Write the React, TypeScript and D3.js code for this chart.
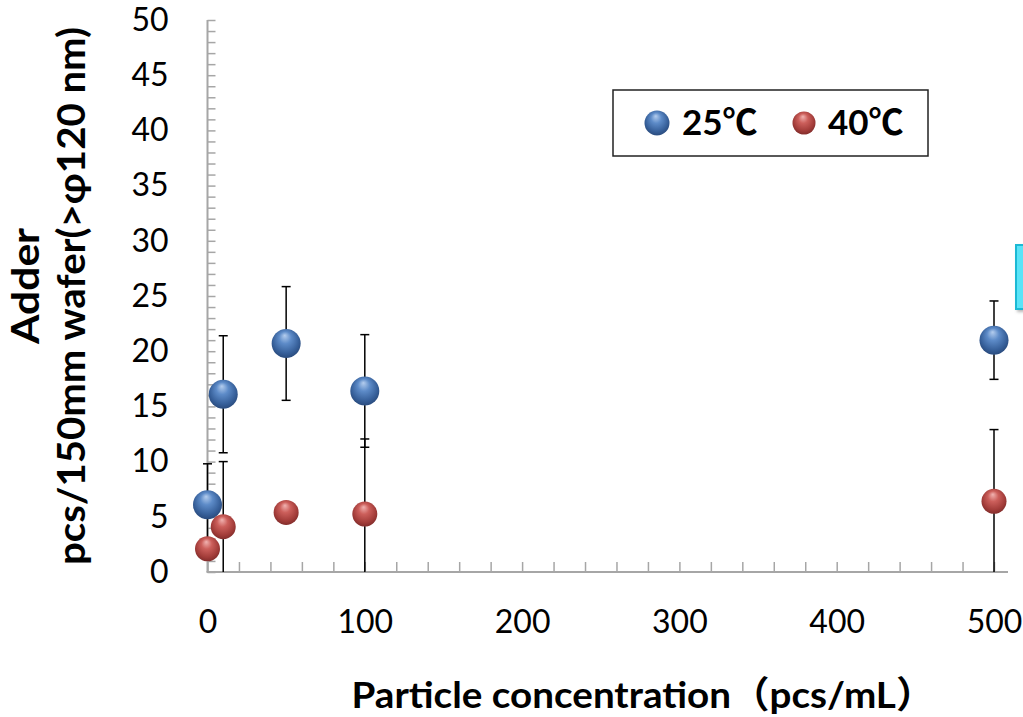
import React, { useEffect, useRef } from "react";
import * as d3 from "d3";

// particle concentration (pcs/mL)
const concentrations = [0, 10, 50, 100, 500];
// adder counts at 25°C and 40°C, with error half-widths
const adder25 = [6.1, 16.1, 20.7, 16.4, 21.0];
const err25 = [3.7, 5.3, 5.15, 5.1, 3.55];
const adder40 = [2.1, 4.1, 5.4, 5.25, 6.4];
const err40 = [0, 5.9, 0, 6.8, 6.5];

const xLabels = [0, 100, 200, 300, 400, 500];
const yLabels = [0, 5, 10, 15, 20, 25, 30, 35, 40, 45, 50];
const seriesNames = ["25℃", "40℃"];

const FONT = "Lato, 'Noto Sans CJK JP', sans-serif";

export default function App() {
  const svgRef = useRef<SVGSVGElement>(null);

  useEffect(() => {
    if (!svgRef.current) return;
    const svg = d3.select(svgRef.current);
    svg.selectAll("*").remove();

    const x = d3.scaleLinear().domain([0, 500]).range([207.5, 994]);
    const y = d3.scaleLinear().domain([0, 50]).range([572, 20]);

    // sphere gradients
    const defs = svg.append("defs");
    const sphere = (id: string, stops: [number, string][]) => {
      const g = defs.append("radialGradient")
        .attr("id", id)
        .attr("cx", "50%").attr("cy", "45%").attr("r", "60%")
        .attr("fx", "45%").attr("fy", "22%");
      stops.forEach(([o, c]) => g.append("stop").attr("offset", o).attr("stop-color", c));
    };
    sphere("blueBall", [[0, "#b4cdee"], [0.35, "#5d8bc8"], [0.75, "#365f99"], [0.92, "#2b4d80"], [1, "#6b8fbf"]]);
    sphere("redBall", [[0, "#f1b3b1"], [0.35, "#cc5f5b"], [0.75, "#a23c39"], [0.92, "#862f2d"], [1, "#c07a78"]]);

    const shadow = defs.append("filter").attr("id", "shadow").attr("x", "-20%").attr("y", "-20%").attr("width", "150%").attr("height", "150%");
    shadow.append("feDropShadow").attr("dx", 2).attr("dy", 2).attr("stdDeviation", 1.5).attr("flood-color", "#888").attr("flood-opacity", 0.6);

    const axisColor = "#a6a6a6";

    // X axis: minor ticks every 20, labels every 100
    const xAxis = d3.axisBottom(x)
      .tickValues(d3.range(0, 501, 20))
      .tickSize(-10)
      .tickSizeOuter(0)
      .tickPadding(38)
      .tickFormat((d: any) => (xLabels.includes(+d) ? String(d) : ""));
    const gx = svg.append("g").attr("transform", "translate(0,572)").call(xAxis);
    gx.select(".domain").remove();
    gx.selectAll(".tick line").attr("stroke", axisColor).attr("stroke-width", 1.5);
    gx.selectAll("text").attr("fill", "#000").attr("font-size", 32).attr("font-family", FONT);

    // Y axis: minor ticks every 1, labels every 5
    const yAxis = d3.axisLeft(y)
      .tickValues(d3.range(0, 51, 1))
      .tickSize(-8)
      .tickSizeOuter(0)
      .tickPadding(39)
      .tickFormat((d: any) => (yLabels.includes(+d) ? String(d) : ""));
    const gy = svg.append("g").attr("transform", "translate(207.5,0)").call(yAxis);
    gy.select(".domain").remove();
    gy.selectAll(".tick line").attr("stroke", axisColor).attr("stroke-width", 1.5);
    gy.selectAll("text").attr("fill", "#000").attr("font-size", 32).attr("font-family", FONT);

    svg.append("line").attr("x1", 207.5).attr("x2", 207.5).attr("y1", y(50)).attr("y2", y(0))
      .attr("stroke", axisColor).attr("stroke-width", 2);
    svg.append("line").attr("x1", 206.5).attr("x2", 1008).attr("y1", y(0)).attr("y2", y(0))
      .attr("stroke", axisColor).attr("stroke-width", 2);

    // error bars (clipped at zero, no cap when clipped)
    const bars: { c: number; v: number; e: number }[] = [];
    concentrations.forEach((c, i) => {
      bars.push({ c, v: adder25[i], e: err25[i] });
      bars.push({ c, v: adder40[i], e: err40[i] });
    });
    const eg = svg.append("g").attr("stroke", "#000").attr("stroke-width", 1.5);
    bars.filter(b => b.e > 0).forEach(b => {
      const hi = b.v + b.e;
      const lo = Math.max(0, b.v - b.e);
      const cx = x(b.c);
      eg.append("line").attr("x1", cx).attr("x2", cx).attr("y1", y(hi)).attr("y2", y(lo));
      eg.append("line").attr("x1", cx - 4.5).attr("x2", cx + 4.5).attr("y1", y(hi)).attr("y2", y(hi));
      if (b.v - b.e >= 0) {
        eg.append("line").attr("x1", cx - 4.5).attr("x2", cx + 4.5).attr("y1", y(lo)).attr("y2", y(lo));
      }
    });

    // markers
    svg.append("g").selectAll("circle")
      .data(concentrations.map((c, i) => ({ c, v: adder25[i] })))
      .enter().append("circle")
      .attr("cx", d => x(d.c)).attr("cy", d => y(d.v)).attr("r", 14.5)
      .attr("fill", "url(#blueBall)");
    svg.append("g").selectAll("circle")
      .data(concentrations.map((c, i) => ({ c, v: adder40[i] })))
      .enter().append("circle")
      .attr("cx", d => x(d.c)).attr("cy", d => y(d.v)).attr("r", 12.5)
      .attr("fill", "url(#redBall)");

    // legend
    const lg = svg.append("g");
    lg.append("rect").attr("x", 613).attr("y", 90).attr("width", 315).attr("height", 66)
      .attr("fill", "#fff").attr("stroke", "#222").attr("stroke-width", 1.5);
    const legendItems = [
      { name: seriesNames[0], fill: "url(#blueBall)", mx: 657, tx: 682, r: 12.5 },
      { name: seriesNames[1], fill: "url(#redBall)", mx: 804, tx: 828, r: 11.5 },
    ];
    legendItems.forEach(it => {
      lg.append("circle").attr("cx", it.mx).attr("cy", 123).attr("r", it.r).attr("fill", it.fill);
      lg.append("text").attr("x", it.tx).attr("y", 135).attr("font-size", 35).attr("font-weight", "bold")
        .attr("font-family", FONT).attr("fill", "#000").text(it.name);
    });

    // partial cyan box at right edge
    svg.append("rect").attr("x", 1016).attr("y", 245).attr("width", 30).attr("height", 64)
      .attr("fill", "#5ae4f8").attr("stroke", "#1cb9d4").attr("stroke-width", 2).attr("filter", "url(#shadow)");

    // axis titles
    svg.append("text").attr("x", 643).attr("y", 708).attr("text-anchor", "middle")
      .attr("font-size", 37).attr("font-weight", "bold").attr("font-family", FONT).attr("fill", "#000")
      .attr("textLength", 583).attr("lengthAdjust", "spacingAndGlyphs")
      .text("Particle concentration（pcs/mL）");
    svg.append("text").attr("transform", "translate(39,286) rotate(-90)").attr("text-anchor", "middle")
      .attr("font-size", 38).attr("font-weight", "bold").attr("font-family", FONT).attr("fill", "#000")
      .attr("textLength", 116).attr("lengthAdjust", "spacingAndGlyphs")
      .text("Adder");
    svg.append("text").attr("transform", "translate(85,296) rotate(-90)").attr("text-anchor", "middle")
      .attr("font-size", 38).attr("font-weight", "bold").attr("font-family", FONT).attr("fill", "#000")
      .attr("textLength", 538).attr("lengthAdjust", "spacingAndGlyphs")
      .text("pcs/150mm wafer(>φ120 nm)");
  }, []);

  return (
    <svg
      ref={svgRef}
      width={1023}
      height={717}
      style={{ position: "absolute", left: 0, top: 0, background: "#fff" }}
    />
  );
}
